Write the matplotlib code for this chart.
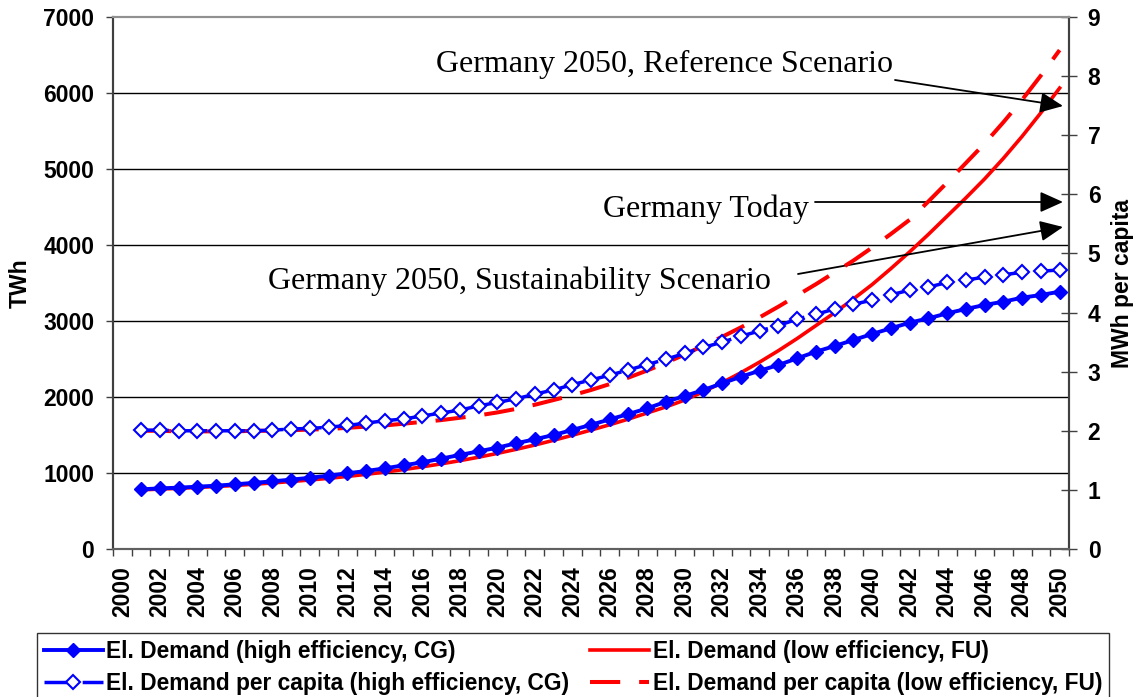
import matplotlib
matplotlib.use("Agg")
import matplotlib.pyplot as plt

# ---------------- data ----------------
years = list(range(2001, 2051))

demand_high_eff_twh = [785, 798, 807, 820, 833, 851, 870, 890, 913, 937,
                       965, 996, 1026, 1061, 1101, 1140, 1189, 1237, 1285, 1333,
                       1391, 1443, 1500, 1566, 1634, 1706, 1776, 1851, 1938, 2013,
                       2092, 2180, 2267, 2346, 2421, 2509, 2596, 2671, 2750, 2829,
                       2904, 2978, 3035, 3101, 3158, 3211, 3254, 3307, 3342, 3386]

demand_low_eff_twh = [778, 788, 798, 810, 822, 836, 852, 869, 888, 908,
                      930, 955, 982, 1012, 1045, 1081, 1120, 1162, 1208, 1258,
                      1311, 1368, 1430, 1496, 1565, 1635, 1710, 1790, 1870, 1960,
                      2070, 2190, 2320, 2460, 2610, 2770, 2940, 3110, 3290, 3480,
                      3690, 3910, 4140, 4380, 4620, 4870, 5140, 5430, 5740, 6065]

percap_high_eff_mwh = [2.01, 2.01, 2.00, 2.00, 2.00, 2.00, 2.00, 2.01, 2.03, 2.04,
                       2.06, 2.09, 2.13, 2.17, 2.20, 2.25, 2.30, 2.35, 2.42, 2.48,
                       2.54, 2.62, 2.69, 2.78, 2.86, 2.94, 3.03, 3.12, 3.21, 3.31,
                       3.41, 3.50, 3.60, 3.69, 3.78, 3.89, 3.97, 4.06, 4.14, 4.21,
                       4.30, 4.38, 4.43, 4.51, 4.55, 4.60, 4.64, 4.68, 4.70, 4.72]

percap_low_eff_mwh = [2.00, 2.00, 1.99, 1.99, 1.99, 1.99, 2.00, 2.00, 2.01, 2.02,
                      2.03, 2.05, 2.07, 2.09, 2.12, 2.15, 2.18, 2.22, 2.26, 2.31,
                      2.37, 2.44, 2.52, 2.60, 2.69, 2.79, 2.90, 3.02, 3.15, 3.29,
                      3.44, 3.59, 3.75, 3.92, 4.10, 4.29, 4.48, 4.68, 4.88, 5.10,
                      5.33, 5.57, 5.88, 6.20, 6.53, 6.86, 7.22, 7.60, 8.01, 8.44]

xtick_years = list(range(2000, 2051, 2))
category_years = list(range(2000, 2051))
left_ticks = list(range(0, 7001, 1000))
right_ticks = list(range(0, 10))

series_labels = ["El. Demand (high efficiency, CG)",
                 "El. Demand (low efficiency, FU)",
                 "El. Demand per capita (high efficiency, CG)",
                 "El. Demand per capita (low efficiency, FU)"]
left_label = "TWh"
right_label = "MWh per capita"
note_reference = "Germany 2050, Reference Scenario"
note_today = "Germany Today"
note_sustain = "Germany 2050, Sustainability Scenario"

# ---------------- figure ----------------
W, H = 1138, 697
fig = plt.figure(figsize=(W / 100, H / 100), dpi=100)
sans = "Liberation Sans"
serif = "Liberation Serif"
BLUE = "#0000ff"
RED = "#ff0000"
TFS = 16.5

def fx(px):
    return px / W

def fy(py):
    return 1 - py / H

ax = fig.add_axes([fx(113), fy(549), (1069 - 113) / W, (549 - 17) / H])
ax2 = ax.twinx()

# lines
l_low, = ax.plot(years, demand_low_eff_twh, color=RED, lw=2.6, zorder=2)
l_high, = ax.plot(years, demand_high_eff_twh, color=BLUE, lw=2.8, marker="D",
                  ms=7.5, mfc=BLUE, mec=BLUE, zorder=3)
l_pc_low, = ax2.plot(years, percap_low_eff_mwh, color=RED, lw=2.9,
                     dashes=(7.5, 4.7), zorder=2)
l_pc_high, = ax2.plot(years, percap_high_eff_mwh, color=BLUE, lw=2.5,
                      dashes=(8, 3), marker="D", ms=7, mfc="white", mec=BLUE,
                      mew=1.5, zorder=3)

# axes limits
ax.set_xlim(category_years[0] - 0.5, category_years[-1] + 0.5)
ax.set_ylim(left_ticks[0], left_ticks[-1])
ax2.set_ylim(right_ticks[0], right_ticks[-1])

# x ticks
ax.set_xticks(xtick_years)
ax.set_xticklabels([str(y) for y in xtick_years], rotation=90,
                   fontfamily=sans, fontweight="bold", fontsize=TFS)
ax.set_xticks([y - 0.5 for y in category_years + [category_years[-1] + 1]], minor=True)
ax.tick_params(axis="x", which="major", length=0, pad=12.5)
ax.tick_params(axis="x", which="minor", length=5, width=1, direction="out",
               color="#404040")

# left y
ax.set_yticks(left_ticks)
ax.set_yticklabels([str(v) for v in left_ticks], fontfamily=sans,
                   fontweight="bold", fontsize=TFS)
ax.tick_params(axis="y", which="major", length=5, width=1, direction="out",
               pad=8.5, color="#404040")
ax.grid(axis="y", color="black", lw=1.0)
ax.set_axisbelow(True)
ax.yaxis.get_gridlines()[-1].set_visible(False)
ax.yaxis.get_gridlines()[0].set_visible(False)

# right y
ax2.set_yticks(right_ticks)
ax2.set_yticklabels([str(v) for v in right_ticks], fontfamily=sans,
                    fontweight="bold", fontsize=TFS)
ax2.tick_params(axis="y", length=11, width=1, direction="inout", pad=8,
                color="#404040")

for a in (ax, ax2):
    for s in a.spines.values():
        s.set_linewidth(1.5)
        s.set_color("#404040")
    a.spines["top"].set_color("#909090")
    a.spines["top"].set_linewidth(1.5)
    a.spines["bottom"].set_color("#606060")

ax.set_ylabel(left_label, fontfamily=sans, fontweight="bold", fontsize=TFS,
              ha="center", va="center")
ax.yaxis.set_label_coords((20 - 113) / 956, 0.5)
ax2.set_ylabel(right_label, fontfamily=sans, fontweight="bold", fontsize=TFS,
               ha="center", va="center", rotation=90)
ax2.yaxis.set_label_coords((1122 - 113) / 956, 0.5)

# annotations
for txt, px, py in [(note_reference, 436, 72), (note_today, 603, 217),
                    (note_sustain, 268, 289)]:
    fig.text(fx(px), fy(py), txt, fontfamily=serif, fontsize=23,
             ha="left", va="baseline")

arrow_kw = dict(arrowstyle="-|>,head_length=1.0,head_width=0.45", color="black",
                lw=1.3, shrinkA=0, shrinkB=0, mutation_scale=14)
for (sx, sy), (tx, ty) in [((895, 80), (1063, 106)),
                           ((815, 202), (1063, 202)),
                           ((798, 274), (1063, 227))]:
    ax.annotate("", xy=(fx(tx), fy(ty)), xytext=(fx(sx), fy(sy)),
                xycoords="figure fraction", textcoords="figure fraction",
                arrowprops=arrow_kw, annotation_clip=False)

# legend
leg = fig.legend([l_high, l_pc_high, l_low, l_pc_low],
                 [series_labels[0], series_labels[2], series_labels[1], series_labels[3]],
                 ncol=2, loc="upper left", bbox_to_anchor=(fx(37), fy(633)),
                 bbox_transform=fig.transFigure, borderaxespad=0,
                 prop=dict(family=sans, weight="bold", size=16.4),
                 frameon=True, fancybox=False, edgecolor="black",
                 handlelength=2.6, handletextpad=0.15, columnspacing=0.9,
                 labelspacing=0.42, borderpad=0.3, numpoints=1)
leg.get_frame().set_linewidth(1.0)

fig.savefig("out.png", dpi=100)
